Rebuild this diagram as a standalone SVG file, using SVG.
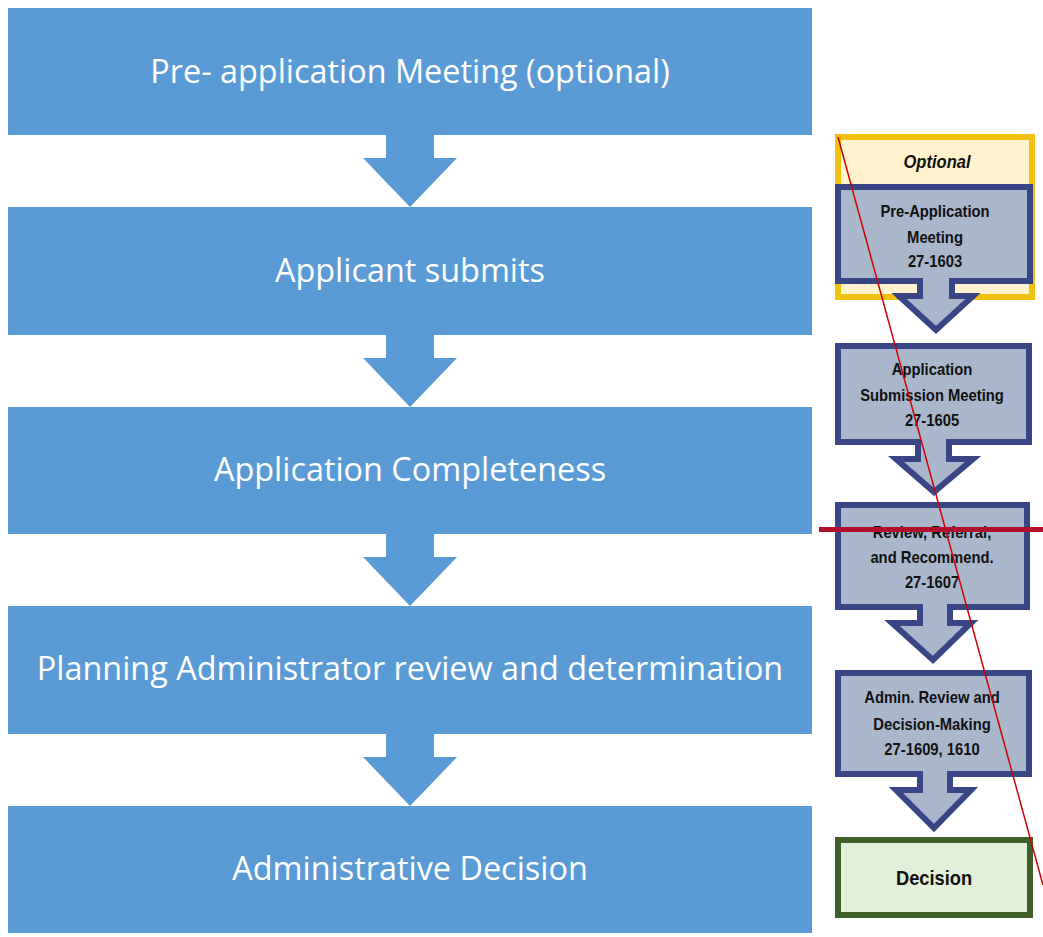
<svg xmlns="http://www.w3.org/2000/svg" width="1043" height="937" viewBox="0 0 1043 937">
<style>
.lb{fill:#5B9BD5}
.lt{font-family:"Open Sans","Liberation Sans",sans-serif;font-size:32.4px;fill:#fff;text-anchor:middle}
.nb{fill:#A9B6CC;stroke:#3A4586;stroke-width:6;stroke-linejoin:miter}
.rt{font-family:"Liberation Sans Narrow","Liberation Sans",sans-serif;font-weight:bold;font-size:17px;fill:#111;text-anchor:middle}
</style>
<rect width="1043" height="937" fill="#fff"/>
<g id="connectors">
<polygon class="lb" points="386,134 434,134 434,158 457,158 410,207 363,158 386,158"/>
<polygon class="lb" points="386,334 434,334 434,358 457,358 410,407 363,358 386,358"/>
<polygon class="lb" points="386,533 434,533 434,557 457,557 410,606 363,557 386,557"/>
<polygon class="lb" points="386,733 434,733 434,757 457,757 410,806 363,757 386,757"/>
</g>
<g id="n1"><rect class="lb" x="8" y="8" width="804" height="127"/><text class="lt" x="410" y="83">Pre- application Meeting (optional)</text></g>
<g id="n2"><rect class="lb" x="8" y="207" width="804" height="128"/><text class="lt" x="410" y="282">Applicant submits</text></g>
<g id="n3"><rect class="lb" x="8" y="407" width="804" height="127"/><text class="lt" x="410" y="481">Application Completeness</text></g>
<g id="n4"><rect class="lb" x="8" y="606" width="804" height="128"/><text class="lt" x="410" y="680">Planning Administrator review and determination</text></g>
<g id="n5"><rect class="lb" x="8" y="806" width="804" height="127"/><text class="lt" x="410" y="880">Administrative Decision</text></g>
<g id="r0"><rect x="838" y="137" width="194" height="160" fill="#FFF2CC" stroke="#F2C10F" stroke-width="6"/>
<g transform="translate(937,0) scale(0.87,1)"><text x="0" y="168" font-family="Liberation Sans Narrow,Liberation Sans,sans-serif" font-weight="bold" font-style="italic" font-size="19" fill="#111" text-anchor="middle">Optional</text></g></g>
<g id="r1"><path class="nb" d="M838,187 H1030 V281 H952 V296 H973 L936,330 L899,296 H920 V281 H838 Z"/>
<g transform="translate(935,0) scale(0.87,1)"><text class="rt" x="0" y="217">Pre-Application</text><text class="rt" x="0" y="243">Meeting</text><text class="rt" x="0" y="267">27-1603</text></g></g>
<g id="r2"><path class="nb" d="M838,346 H1029 V442 H949 V459 H973 L934,492 L896,459 H918 V442 H838 Z"/>
<g transform="translate(932,0) scale(0.87,1)"><text class="rt" x="0" y="375">Application</text><text class="rt" x="0" y="401">Submission Meeting</text><text class="rt" x="0" y="426">27-1605</text></g></g>
<g id="r3"><path class="nb" d="M838,505 H1027 V607 H950 V623 H971 L933,660 L892,623 H920 V607 H838 Z"/>
<g transform="translate(932,0) scale(0.87,1)"><text class="rt" x="0" y="538">Review, Referral,</text><text class="rt" x="0" y="563">and Recommend.</text><text class="rt" x="0" y="588">27-1607</text></g></g>
<g id="r4"><path class="nb" d="M838,673 H1029 V774 H950 V790 H971 L934,828 L896,790 H920 V774 H838 Z"/>
<g transform="translate(932,0) scale(0.87,1)"><text class="rt" x="0" y="703">Admin. Review and</text><text class="rt" x="0" y="730">Decision-Making</text><text class="rt" x="0" y="755">27-1609, 1610</text></g></g>
<g id="r5"><rect x="838" y="840" width="192" height="75" fill="#E2EFD9" stroke="#3F5F28" stroke-width="6"/>
<g transform="translate(934,0) scale(0.87,1)"><text x="0" y="885" font-family="Liberation Sans Narrow,Liberation Sans,sans-serif" font-weight="bold" font-size="21" fill="#111" text-anchor="middle">Decision</text></g></g>
<line x1="838" y1="137" x2="1043" y2="885" stroke="#D00000" stroke-width="1.5"/>
<line x1="819" y1="529.5" x2="1043" y2="529.5" stroke="#B0102E" stroke-width="5"/>
</svg>
